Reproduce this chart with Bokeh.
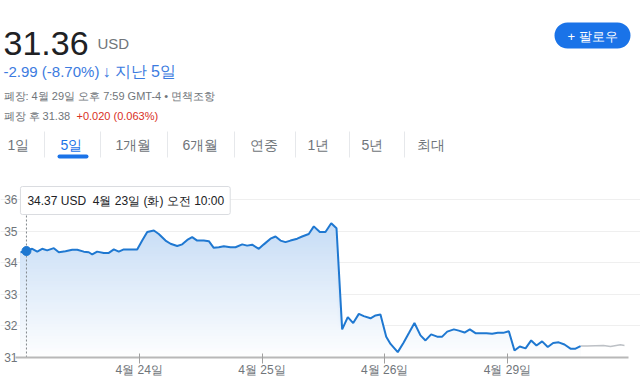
import numpy as np
from bokeh.plotting import figure
from bokeh.models import Range1d, FixedTicker, Label
from bokeh.core.properties import value
from bokeh.embed import file_html
from bokeh.resources import INLINE

# ---------------- data ----------------
day_labels = ["4월 23일", "4월 24일", "4월 25일", "4월 26일", "4월 29일"]
day_ticks = [1, 2, 3, 4]

# position in trading days since the 4/23 open, and price (USD)
t_day = [0.033, 0.081, 0.128, 0.169, 0.209, 0.250, 0.304, 0.345, 0.399, 0.454,
         0.495, 0.548, 0.589, 0.617, 0.657, 0.711, 0.752, 0.793, 0.833, 0.874,
         0.929, 0.983, 1.024, 1.065, 1.119, 1.159, 1.214, 1.255, 1.309, 1.350,
         1.391, 1.431, 1.472, 1.526, 1.567, 1.607, 1.648, 1.689, 1.743, 1.784,
         1.839, 1.879, 1.920, 1.974, 2.015, 2.069, 2.110, 2.151, 2.191, 2.232,
         2.287, 2.327, 2.381, 2.422, 2.471, 2.517, 2.564, 2.607, 2.653, 2.699,
         2.743, 2.789, 2.829, 2.884, 2.925, 2.965, 3.012, 3.047, 3.106, 3.153,
         3.198, 3.242, 3.291, 3.332, 3.378, 3.427, 3.468, 3.509, 3.563, 3.603,
         3.650, 3.693, 3.739, 3.780, 3.829, 3.875, 3.921, 3.965, 4.011, 4.057,
         4.100, 4.147, 4.193, 4.236, 4.282, 4.328, 4.372, 4.417, 4.464, 4.513,
         4.554, 4.595]
price = [34.33, 34.37, 34.44, 34.35, 34.44, 34.39, 34.46, 34.33, 34.36, 34.41,
         34.41, 34.35, 34.33, 34.26, 34.35, 34.31, 34.31, 34.42, 34.35, 34.42,
         34.42, 34.42, 34.70, 34.97, 35.02, 34.91, 34.70, 34.60, 34.53, 34.58,
         34.72, 34.81, 34.70, 34.70, 34.68, 34.47, 34.49, 34.52, 34.49, 34.49,
         34.58, 34.54, 34.57, 34.44, 34.58, 34.76, 34.83, 34.70, 34.65, 34.70,
         34.76, 34.83, 34.91, 35.15, 34.97, 34.97, 35.25, 35.09, 31.89, 32.28,
         32.09, 32.38, 32.31, 32.24, 32.33, 32.36, 31.66, 31.43, 31.17, 31.47,
         31.78, 32.09, 31.70, 31.54, 31.73, 31.66, 31.66, 31.82, 31.89, 31.85,
         31.79, 31.89, 31.77, 31.77, 31.77, 31.75, 31.78, 31.78, 31.83, 31.22,
         31.35, 31.29, 31.54, 31.38, 31.51, 31.33, 31.46, 31.48, 31.41, 31.28,
         31.28, 31.36]

# after-hours (grey) segment
ah_t = [4.595, 4.649, 4.782, 4.839, 4.920, 4.953]
ah_price = [31.36, 31.36, 31.38, 31.35, 31.40, 31.38]

y_ticks = [31, 32, 33, 34, 35, 36]

hover_t = 0.081
hover_price = 34.37
hover_text_tail = "4월 23일 (화) 오전 10:00"

last_price = "31.36"
currency = "USD"
change_text = "-2.99 (-8.70%)"
period_text = "지난 5일"
close_text = "폐장: 4월 29일 오후 7:59 GMT-4 • 면책조항"
ah_text = "폐장 후 31.38"
ah_change_text = "+0.020 (0.063%)"
tabs = ["1일", "5일", "1개월", "6개월", "연중", "1년", "5년", "최대"]
active_tab = 1

# ---------------- layout / style ----------------
FONT = "Liberation Sans"
GREY = "#70757a"
BLUE = "#1a73e8"
LINE = "#1f78d1"
W, H = 640, 385
# canvas pixels: frame spans x 0..640, y 0..357 ; day d at x = 16 + 122.75 d ; price v at y = 357 - 31.6 (v - 31)
PX_DAY, PX_ORIGIN = 122.75, 16.0
PY_UNIT, PY_BASE = 31.6, 357.0
B_BOTTOM = int(H - PY_BASE)
X0 = (0 - PX_ORIGIN) / PX_DAY
X1 = (W - PX_ORIGIN) / PX_DAY
Y0 = 31.0
Y1 = 31.0 + PY_BASE / PY_UNIT


def X(px):
    return (px - PX_ORIGIN) / PX_DAY


def Y(py):
    return 31.0 + (PY_BASE - py) / PY_UNIT


p = figure(width=W, height=H, x_range=Range1d(X0, X1), y_range=Range1d(Y0, Y1),
           output_backend="svg", toolbar_location=None,
           min_border_left=0, min_border_right=0, min_border_top=0,
           min_border_bottom=B_BOTTOM)
p.outline_line_color = None
p.xgrid.visible = False
p.ygrid.ticker = FixedTicker(ticks=y_ticks[1:])
p.ygrid.grid_line_color = "#efefef"


def txt(px, py, t, size, color, align="left", baseline="alphabetic", style="normal"):
    p.text(x=[X(px)], y=[Y(py)], text=[t], text_font=value(FONT),
           text_font_size=value(size), text_color=color, text_align=align,
           text_baseline=baseline, text_font_style=style)


# ---------------- header ----------------
txt(3, 43, last_price, "34px", "#202124")
txt(97, 43, currency, "15px", GREY)
txt(3, 71, change_text, "15px", "#3c7be0")
txt(106, 71, "↓", "16px", "#3c7be0", align="center", style="bold")
txt(114, 71, period_text, "16px", "#3c7be0")
txt(3, 95, close_text, "11px", GREY)
txt(3, 115, ah_text, "11px", GREY)
txt(76, 115, ah_change_text, "11px", "#d93025")

# follow button
p.quad(left=[X(554)], right=[X(630)], top=[Y(22)], bottom=[Y(48)], fill_color=BLUE,
       line_color=None, border_radius=13)
txt(592, 35.5, "+ 팔로우", "13px", "white", align="center", baseline="middle")

# tabs
tab_x = [18, 71, 133, 200, 263, 318, 372, 430]
sep_x = [44, 100, 167, 234, 295, 349, 404]
for i, (tx, tl) in enumerate(zip(tab_x, tabs)):
    txt(tx, 144, tl, "14px", BLUE if i == active_tab else GREY,
        align="center", baseline="middle")
p.segment(x0=[X(s) for s in sep_x], y0=[Y(131)] * len(sep_x),
          x1=[X(s) for s in sep_x], y1=[Y(157)] * len(sep_x),
          line_color="#e6e8eb", line_width=1)
p.quad(left=[X(57)], right=[X(88)], top=[Y(154)], bottom=[Y(158)],
       fill_color=BLUE, line_color=None, border_radius=2)

# ---------------- chart ----------------
tt = np.array(t_day)
pp = np.array(price)
top_level = max(price)
levels = np.linspace(31, top_level, 45)[1:]
c_top = np.array([199, 221, 246])
c_bot = np.array([255, 255, 255])
for b in levels[::-1]:
    f = (b - 31) / (top_level - 31)
    c = (c_bot * (1 - f) + c_top * f).astype(int)
    col = "#%02x%02x%02x" % tuple(c)
    p.varea(x=tt, y1=31, y2=np.clip(pp, 31, b), fill_color=col)

p.line(ah_t, ah_price, line_color="#bdc1c6", line_width=1.5)
p.line(t_day, price, line_color=LINE, line_width=2)

# hover indicator
p.segment(x0=[hover_t], y0=[31], x1=[hover_t], y1=[35.55], line_color="#80868b",
          line_dash="2 2", line_width=1)
p.scatter(x=[hover_t], y=[hover_price], size=9, fill_color=LINE, line_color=LINE)
tip = Label(x=hover_t, y=36, x_offset=-6, y_offset=-1,
            text=f"{hover_price:.2f} {currency}\u00a0\u00a0{hover_text_tail}",
            text_font=FONT, text_font_size="12px", text_color="#202124",
            text_baseline="middle", text_align="left",
            background_fill_color="white", border_line_color="#dadce0",
            padding=dict(left=7, right=6, top=7, bottom=7), border_radius=2)
p.add_layout(tip)

# axes
p.yaxis.ticker = FixedTicker(ticks=y_ticks)
p.yaxis.axis_line_color = None
p.yaxis.major_tick_line_color = None
p.yaxis.minor_tick_line_color = None
p.yaxis.major_tick_out = 0
p.yaxis.major_tick_in = 0
p.yaxis.major_label_standoff = -17
p.yaxis.major_label_text_font = FONT
p.yaxis.major_label_text_font_size = "12px"
p.yaxis.major_label_text_color = GREY

p.xaxis.ticker = FixedTicker(ticks=day_ticks)
p.xaxis.major_label_overrides = {d: day_labels[d] for d in day_ticks}
p.xaxis.bounds = (X(15), X(628))
p.xaxis.axis_line_color = "#b8b8b8"
p.xaxis.axis_line_width = 2
p.xaxis.major_tick_line_color = "#a0a0a0"
p.xaxis.major_tick_in = 4
p.xaxis.major_tick_out = 6
p.xaxis.minor_tick_line_color = None
p.xaxis.major_label_standoff = -1
p.xaxis.major_label_text_font = FONT
p.xaxis.major_label_text_font_size = "12px"
p.xaxis.major_label_text_color = GREY

open("out.html", "w").write(file_html(p, INLINE))
